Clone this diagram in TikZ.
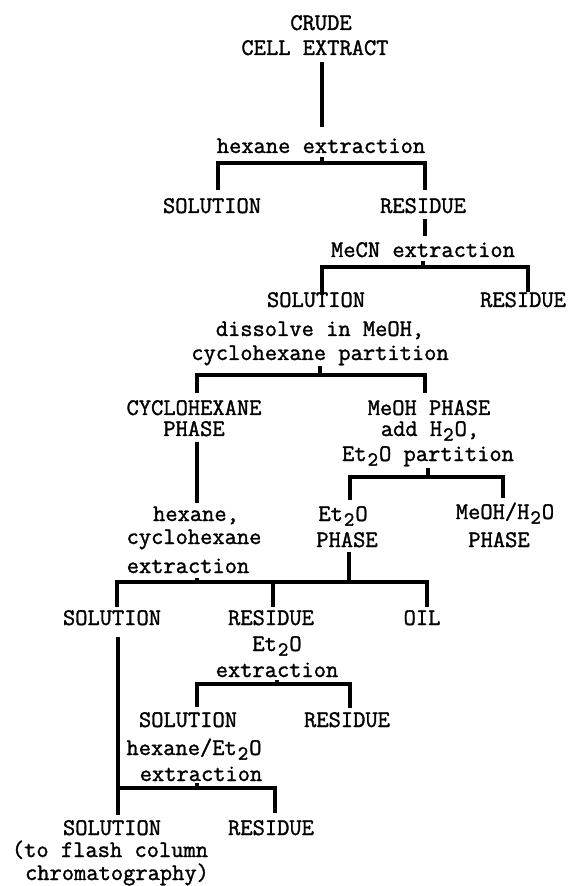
\documentclass[tikz,border=0pt]{standalone}
\usepackage{fontspec}
\newfontfamily\twfont{Latin Modern Mono}[FakeBold=1.4]
\newcommand\lowtwo{\makebox[0.525em]{\raisebox{-0.45ex}{\fontsize{10}{10}\selectfont 2}}}
\begin{document}
\begin{tikzpicture}[x=0.5pt,y=-0.5pt,
  lbl/.style={inner sep=0pt,anchor=base,font=\twfont\fontsize{11.9}{14}\selectfont},
  conn/.style={line width=2.2pt,line join=miter}]
\useasboundingbox (0,0) rectangle (571,886);
% texts
\node[lbl] (crudeA) at (321,30) {CRUDE};
\node[lbl] (crudeB) at (315,55) {CELL EXTRACT};
\node[lbl] (hexA) at (321,153) {hexane extraction};
\node[lbl] (sol1) at (212,213) {SOLUTION};
\node[lbl] (res1) at (423,213) {RESIDUE};
\node[lbl] (mecn) at (423,257) {MeCN extraction};
\node[lbl] (sol2) at (316,307) {SOLUTION};
\node[lbl] (res2) at (523,307) {RESIDUE};
\node[lbl] (dissA) at (320,336) {dissolve in MeOH,};
\node[lbl] (dissB) at (320,360) {cyclohexane partition};
\node[lbl] (cycA) at (194,415) {CYCLOHEXANE};
\node[lbl] (cycB) at (194,436) {PHASE};
\node[lbl] (meohA) at (429,415) {MeOH PHASE};
\node[lbl] (meohB) at (430,436) {add H\lowtwo O,};
\node[lbl] (meohC) at (428,461) {Et\lowtwo O partition};
\node[lbl] (hcA) at (196,521) {hexane,};
\node[lbl] (hcB) at (194,544) {cyclohexane};
\node[lbl] (hcC) at (188,573) {extraction};
\node[lbl] (etA) at (343,521) {Et\lowtwo O};
\node[lbl] (etB) at (347,547) {PHASE};
\node[lbl] (mwA) at (505,519) {MeOH/H\lowtwo O};
\node[lbl] (mwB) at (499,547) {PHASE};
\node[lbl] (sol3) at (112,625) {SOLUTION};
\node[lbl] (res3) at (271,625) {RESIDUE};
\node[lbl] (oil) at (422,625) {OIL};
\node[lbl] (e2A) at (277,651) {Et\lowtwo O};
\node[lbl] (e2B) at (277,677) {extraction};
\node[lbl] (sol4) at (188,727) {SOLUTION};
\node[lbl] (res4) at (347,727) {RESIDUE};
\node[lbl] (heA) at (194,755) {hexane/Et\lowtwo O};
\node[lbl] (heB) at (201,781) {extraction};
\node[lbl] (sol5) at (112,835) {SOLUTION};
\node[lbl] (res5) at (271,835) {RESIDUE};
\node[lbl] (flA) at (110,857) {(to flash column};
\node[lbl] (flB) at (117,880) {chromatography)};
% junction coordinates
\coordinate (g1a) at (322,62);  \coordinate (g1b) at (322,127);
\coordinate (g1t) at (322,157); \coordinate (g1m) at (322,163);
\coordinate (g1l) at (218,190); \coordinate (g1L) at (218,163);
\coordinate (g1R) at (425,163); \coordinate (g1r) at (425,190);
\coordinate (g2a) at (425,219); \coordinate (g2b) at (425,236);
\coordinate (g2t) at (423,261); \coordinate (g2m) at (423,267);
\coordinate (g2l) at (322,295); \coordinate (g2L) at (322,267);
\coordinate (g2R) at (528,267); \coordinate (g2r) at (528,292);
\coordinate (g3t) at (320,366); \coordinate (g3m) at (320,375);
\coordinate (g3l) at (197,393); \coordinate (g3L) at (197,375);
\coordinate (g3R) at (425,375); \coordinate (g3r) at (425,393);
\coordinate (g4a) at (197,442); \coordinate (g4b) at (197,503);
\coordinate (g5t) at (428,468); \coordinate (g5m) at (428,477);
\coordinate (g5l) at (350,500); \coordinate (g5L) at (350,477);
\coordinate (g5R) at (503,477); \coordinate (g5r) at (503,498);
\coordinate (g6a) at (349,552); \coordinate (g6m) at (349,582);
\coordinate (g6t) at (197,578); \coordinate (g6n) at (197,582);
\coordinate (g6l) at (117,607); \coordinate (g6L) at (117,582);
\coordinate (g6R) at (427,582); \coordinate (g6r) at (427,607);
\coordinate (g6c) at (273,582); \coordinate (g6d) at (273,607);
\coordinate (g7a) at (118,637); \coordinate (g7b) at (118,815);
\coordinate (g8t) at (277,680); \coordinate (g8m) at (277,684);
\coordinate (g8l) at (197,707); \coordinate (g8L) at (197,684);
\coordinate (g8R) at (350,684); \coordinate (g8r) at (350,708);
\coordinate (g9L) at (118,788); \coordinate (g9R) at (275,788);
\coordinate (g9r) at (275,813);
\coordinate (g9t) at (197,783); \coordinate (g9m) at (197,788);
% connectors
\draw[conn] (g1a) -- (g1b);
\draw[conn] (g1t) -- (g1m);
\draw[conn] (g1l) -- (g1L) -- (g1R) -- (g1r);
\draw[conn] (g2a) -- (g2b);
\draw[conn] (g2t) -- (g2m);
\draw[conn] (g2l) -- (g2L) -- (g2R) -- (g2r);
\draw[conn] (g3t) -- (g3m);
\draw[conn] (g3l) -- (g3L) -- (g3R) -- (g3r);
\draw[conn] (g4a) -- (g4b);
\draw[conn] (g5t) -- (g5m);
\draw[conn] (g5l) -- (g5L) -- (g5R) -- (g5r);
\draw[conn] (g6a) -- (g6m);
\draw[conn] (g6t) -- (g6n);
\draw[conn] (g6l) -- (g6L) -- (g6R) -- (g6r);
\draw[conn] (g6c) -- (g6d);
\draw[conn] (g7a) -- (g7b);
\draw[conn] (g8t) -- (g8m);
\draw[conn] (g8l) -- (g8L) -- (g8R) -- (g8r);
\draw[conn] (g9L) -- (g9R) -- (g9r);
\draw[conn] (g9t) -- (g9m);
\end{tikzpicture}
\end{document}
